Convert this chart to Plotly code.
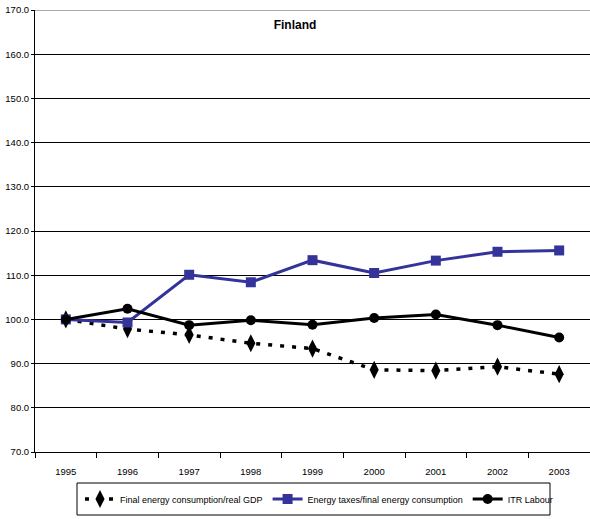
import plotly.graph_objects as go

years = ["1995", "1996", "1997", "1998", "1999", "2000", "2001", "2002", "2003"]
energy_intensity = [100.0, 97.8, 96.5, 94.6, 93.4, 88.6, 88.4, 89.3, 87.6]
energy_taxes = [100.0, 99.3, 110.1, 108.4, 113.4, 110.5, 113.3, 115.3, 115.6]
itr_labour = [100.0, 102.4, 98.7, 99.8, 98.8, 100.3, 101.1, 98.7, 95.9]
y_ticks = [70, 80, 90, 100, 110, 120, 130, 140, 150, 160, 170]

FONT = "Liberation Sans, Arial, sans-serif"
BLUE = "#333399"

# plot-area geometry in pixels (used to place the legend frame)
W, H = 590, 519
L, R, T, B = 35, 0, 10, 67
PW, PH = W - L - R, H - T - B


def px_x(x):
    return (x - L) / PW


def px_y(y):
    return (H - B - y) / PH


fig = go.Figure()
fig.add_trace(go.Scatter(
    x=years, y=energy_intensity, name="Final energy consumption/real GDP",
    mode="lines+markers",
    line=dict(color="black", width=3.5, dash="4px,8px"),
    marker=dict(symbol="diamond-tall", size=13, color="black"),
))
fig.add_trace(go.Scatter(
    x=years, y=energy_taxes, name="Energy taxes/final energy consumption",
    mode="lines+markers",
    line=dict(color=BLUE, width=3),
    marker=dict(symbol="square", size=10, color=BLUE),
))
fig.add_trace(go.Scatter(
    x=years, y=itr_labour, name="ITR Labour",
    mode="lines+markers",
    line=dict(color="black", width=3),
    marker=dict(symbol="circle", size=10, color="black"),
))

# legend frame and grey top border of the plot area
fig.add_shape(type="rect", xref="paper", yref="paper",
              x0=px_x(77), x1=px_x(550), y0=px_y(515), y1=px_y(483),
              line=dict(color="black", width=1), fillcolor="white", layer="below")
fig.add_shape(type="line", xref="paper", yref="y",
              x0=0, x1=1, y0=170, y1=170,
              line=dict(color="#8c8c8c", width=1.5))

fig.update_layout(
    width=W, height=H,
    margin=dict(l=L, r=R, t=T, b=B),
    paper_bgcolor="white", plot_bgcolor="white",
    font=dict(family=FONT, size=9, color="black"),
    title=dict(text="<b>Finland</b>", x=0.5, xref="container", xanchor="center",
               y=1 - 25 / H, yref="container", yanchor="middle",
               font=dict(family=FONT, size=12)),
    showlegend=True,
    legend=dict(orientation="h", x=px_x(80), y=px_y(499), xanchor="left",
                yanchor="middle", borderwidth=0, bgcolor="rgba(0,0,0,0)",
                font=dict(family=FONT, size=9)),
    xaxis=dict(type="category", range=[-0.5, 8.5], tickson="boundaries",
               ticks="outside", ticklen=5, tickcolor="black",
               ticklabelstandoff=11,
               showgrid=False, showline=True, linecolor="black", linewidth=1,
               tickfont=dict(size=9.5), zeroline=False),
    yaxis=dict(range=[70, 170], tickvals=y_ticks, tickformat=".1f",
               ticks="outside", ticklen=3, tickcolor="black",
               showgrid=True, gridcolor="black", gridwidth=1,
               showline=True, linecolor="black", linewidth=1,
               tickfont=dict(size=9.5), zeroline=False),
)

fig.write_html("out.html")
